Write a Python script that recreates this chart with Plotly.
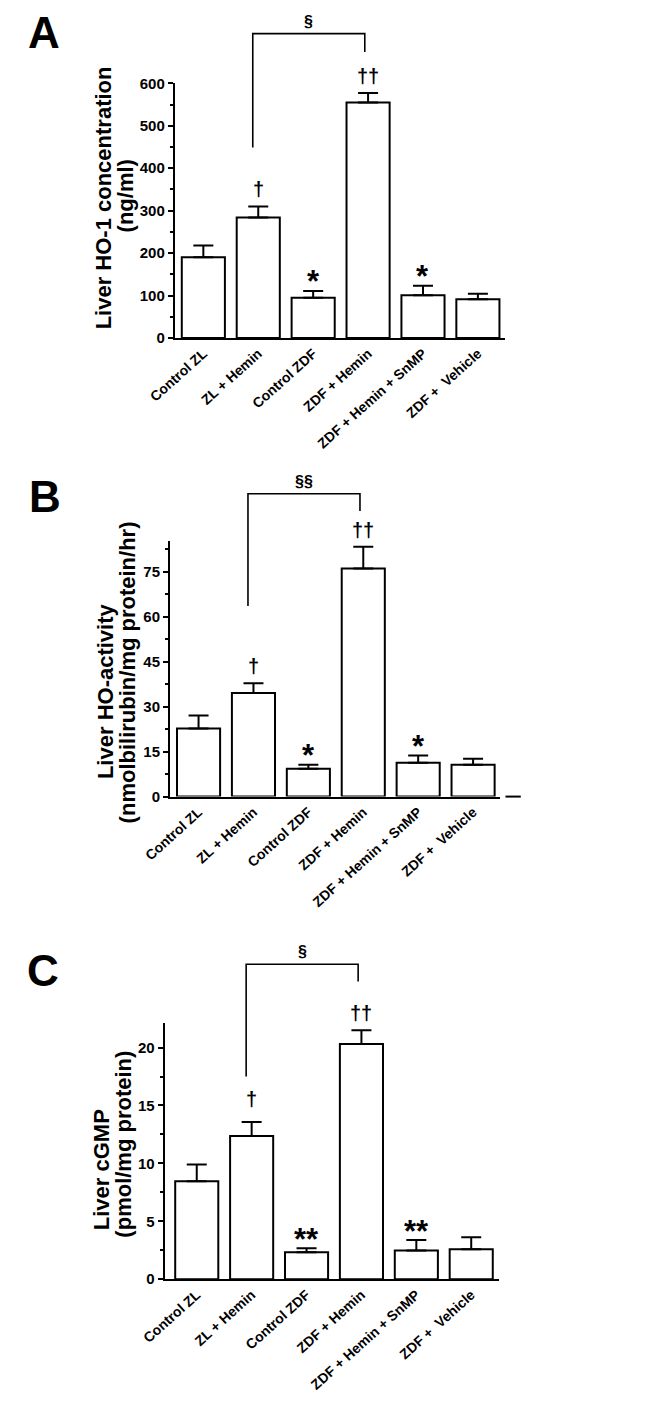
import plotly.graph_objects as go

PAGE_W, PAGE_H = 661, 1401
OFF = 8                      # default body margin of the html page
W, H = PAGE_W - 2 * OFF, PAGE_H - 2 * OFF
FONT = "Liberation Sans, Arial, sans-serif"


def fx(px):
    return (px - OFF) / W


def fy(py):
    return 1 - (py - OFF) / H


categories = ["Control ZL", "ZL + Hemin", "Control ZDF", "ZDF + Hemin",
              "ZDF + Hemin + SnMP", "ZDF + \u00a0Vehicle"]

# Panel A: Liver HO-1 concentration (ng/ml)
a_mean = [190, 284, 95, 555, 101, 91.5]
a_upper = [218, 310, 111, 577, 123, 104]
a_marks = ["", "†", "*", "††", "*", ""]
a_ticks = [0, 100, 200, 300, 400, 500, 600]
a_minor = [50, 150, 250, 350, 450, 550]
a_bracket = {"left": 1, "right": 3, "top": 717, "left_bottom": 449, "right_bottom": 674, "label": "§"}

# Panel B: Liver HO-activity
b_mean = [22.7, 34.6, 9.3, 76.1, 11.3, 10.6]
b_upper = [27.1, 37.8, 10.6, 83.4, 13.7, 12.6]
b_marks = ["", "†", "*", "††", "*", ""]
b_ticks = [0, 15, 30, 45, 60, 75]
b_minor = [7.5, 22.5, 37.5, 52.5, 67.5, 82.5]
b_bracket = {"left": 1, "right": 3, "top": 101.1, "left_bottom": 63.6, "right_bottom": 95.3, "label": "§§"}

# Panel C: Liver cGMP
c_mean = [8.46, 12.37, 2.33, 20.3, 2.47, 2.59]
c_upper = [9.9, 13.57, 2.67, 21.5, 3.38, 3.63]
c_marks = ["", "†", "**", "††", "**", ""]
c_ticks = [0, 5, 10, 15, 20]
c_minor = [2.5, 7.5, 12.5, 17.5]
c_bracket = {"left": 1, "right": 3, "top": 27.2, "left_bottom": 17.5, "right_bottom": 25.7, "label": "§"}

panels = [
    dict(letter="A", mean=a_mean, upper=a_upper, marks=a_marks, ticks=a_ticks, minor=a_minor,
         bracket=a_bracket, axis_top=600, xrange=[-0.52, 5.5],
         title1="Liver HO-1 concentration", title2="(ng/ml)",
         px_x=(153.9, 498.9), px_y=(333.7, 75.3),
         letter_pos=(17.5, 24), t1_pos=(79, 192), t2_pos=(102, 190)),
    dict(letter="B", mean=b_mean, upper=b_upper, marks=b_marks, ticks=b_ticks, minor=b_minor,
         bracket=b_bracket, axis_top=85.2, xrange=[-0.52, 5.49],
         title1="Liver HO-activity", title2="(nmolbilirubin/mg protein/hr)",
         px_x=(148.9, 493.3), px_y=(799.0, 540.0),
         letter_pos=(18.5, 495), t1_pos=(81, 692), t2_pos=(104, 673)),
    dict(letter="C", mean=c_mean, upper=c_upper, marks=c_marks, ticks=c_ticks, minor=c_minor,
         bracket=c_bracket, axis_top=22.1, xrange=[-0.585, 5.51],
         title1="Liver cGMP", title2="(pmol/mg protein)",
         px_x=(143.3, 492.5), px_y=(1288.7, 1029.0),
         letter_pos=(16.5, 975), t1_pos=(77, 1178), t2_pos=(100, 1152)),
]

fig = go.Figure()
shapes = []
annotations = []
layout_axes = {}

for i, p in enumerate(panels):
    sfx = "" if i == 0 else str(i + 1)
    xa, ya = "x" + sfx, "y" + sfx
    top = p["axis_top"]
    err_plus = [u - m for u, m in zip(p["upper"], p["mean"])]
    fig.add_trace(go.Bar(
        x=categories, y=p["mean"], xaxis=xa, yaxis=ya, width=0.785,
        marker=dict(color="white", line=dict(color="black", width=2)),
        error_y=dict(type="data", array=err_plus, arrayminus=[0] * len(err_plus),
                     symmetric=False, color="black", thickness=2, width=10),
        showlegend=False, hoverinfo="skip",
    ))
    x0p, x1p = p["px_x"]
    y0p, y1p = p["px_y"]
    layout_axes["xaxis" + sfx] = dict(
        domain=[fx(x0p), fx(x1p)], anchor=ya, type="category", range=p["xrange"],
        showline=True, linecolor="black", linewidth=2, ticks="", showgrid=False,
        zeroline=False, tickangle=-42,
        tickfont=dict(family=FONT, size=14, color="black", weight="bold"),
    )
    layout_axes["yaxis" + sfx] = dict(
        domain=[fy(y0p), fy(y1p)], anchor=xa, range=[0, top],
        showline=True, linecolor="black", linewidth=2, showgrid=False, zeroline=False,
        ticks="outside", ticklen=5, tickwidth=2, tickcolor="black",
        tickvals=p["ticks"], ticktext=[str(t) for t in p["ticks"]],
        tickfont=dict(family=FONT, size=15, color="black", weight="bold"),
        minor=dict(tickvals=p["minor"], ticks="outside", ticklen=3, tickwidth=1.5,
                   tickcolor="black", showgrid=False),
    )
    # significance marks above error bars
    for j, mk in enumerate(p["marks"]):
        if not mk:
            continue
        if "*" in mk:
            size, shift = 31, 9
        else:
            size = 20
            shift = 23 if (i == 2 and mk == "†") else 17
        annotations.append(dict(
            x=j, y=p["upper"][j] / top, xref=xa, yref=ya + " domain", text=mk,
            showarrow=False, yanchor="middle", xanchor="center", yshift=shift,
            font=dict(family=FONT, size=size, color="black", weight="bold"),
        ))
    # comparison bracket
    br = p["bracket"]
    xl = br["left"] - 0.10
    xr = br["right"] - 0.06
    shapes.append(dict(
        type="path", xref=xa, yref=ya + " domain",
        path=(f"M {xl},{br['left_bottom'] / top} L {xl},{br['top'] / top} "
              f"L {xr},{br['top'] / top} L {xr},{br['right_bottom'] / top}"),
        line=dict(color="black", width=1.6),
    ))
    annotations.append(dict(
        x=(xl + xr) / 2, y=br["top"] / top, xref=xa, yref=ya + " domain", text=br["label"],
        showarrow=False, yanchor="bottom", xanchor="center", yshift=2,
        font=dict(family=FONT, size=16, color="black", weight="bold"),
    ))
    # panel letter
    lx, ly = p["letter_pos"]
    annotations.append(dict(
        x=fx(lx), y=fy(ly), xref="paper", yref="paper", text=p["letter"],
        showarrow=False, xanchor="center", yanchor="middle",
        font=dict(family=FONT, size=44, color="black", weight="bold"),
    ))
    # y titles
    for t, (tx, ty) in ((p["title1"], p["t1_pos"]), (p["title2"], p["t2_pos"])):
        annotations.append(dict(
            x=fx(tx), y=fy(ty), xref="paper", yref="paper", text=t,
            showarrow=False, xanchor="center", yanchor="middle", textangle=-90,
            font=dict(family=FONT, size=22, color="black", weight="bold"),
        ))

# stray short line to the right of panel B's x axis
shapes.append(dict(type="line", xref="x2 domain", yref="y2 domain",
                   x0=1.0166, x1=1.063, y0=0, y1=0, line=dict(color="black", width=2)))

fig.update_layout(
    width=W, height=H, margin=dict(l=0, r=0, t=0, b=0),
    paper_bgcolor="white", plot_bgcolor="white",
    shapes=shapes, annotations=annotations,
    **layout_axes,
)

fig.write_html("out.html")
